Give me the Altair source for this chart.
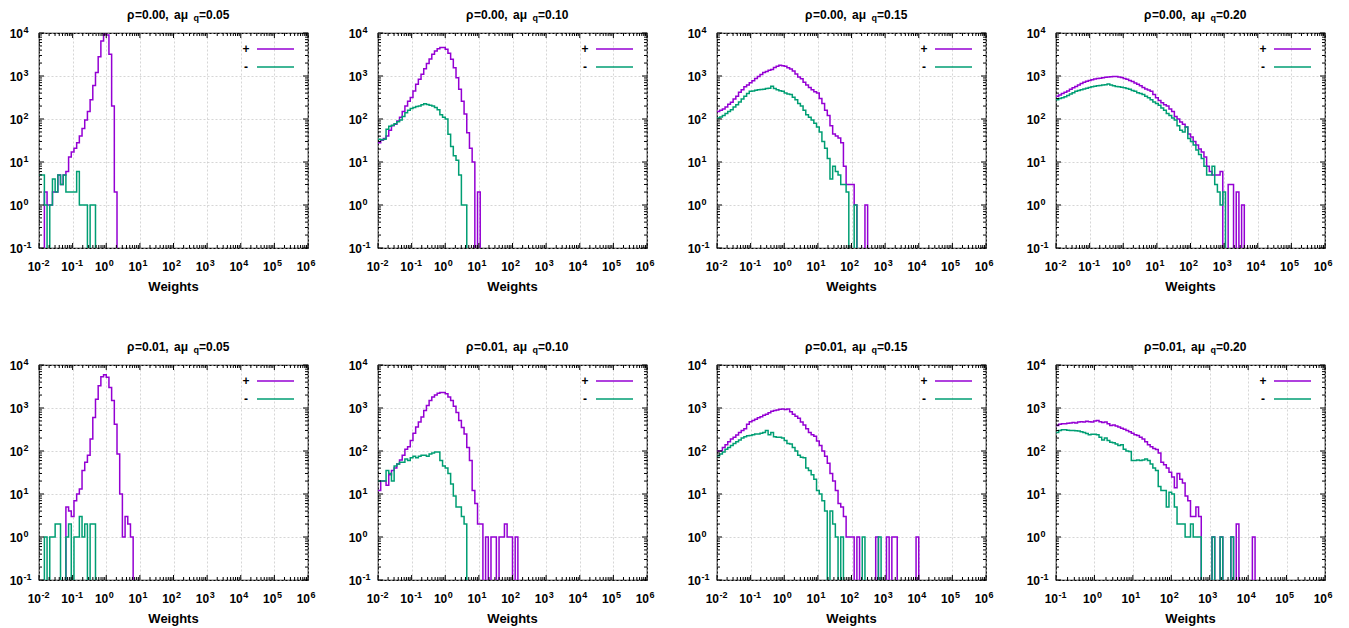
import altair as alt
import numpy as np
import pandas as pd

# ---------------- data ----------------
RHO = ["0.00", "0.01"]
AMQ = ["0.05", "0.10", "0.15", "0.20"]
SERIES = ["+", "-"]
COLORS = ["#9400D3", "#009E73"]
X_MIN_EXP = [-2, -2, -2, -2, -2, -2, -2, -1]
X_MAX_EXP = 6
Y_MIN_EXP = -1
Y_MAX_EXP = 4
N_BINS = 100
TICK_BASE = "10"
X_TITLE = "Weights"

# counts per logarithmic bin, starting at the left edge of the x range
PLUS_000_005 = [0, 0, 2, 1, 1, 2, 2, 5, 3, 5, 6, 13, 17, 21, 28, 40, 60, 95, 150, 280, 600, 1200, 2800,
                6500, 9500, 9000, 3200, 200, 2]
MINUS_000_005 = [5, 5, 1, 0, 1, 4, 2, 5, 3, 5, 2, 2, 2, 2, 6, 1, 1, 1, 0, 1, 1]

PLUS_000_010 = [28, 32, 35, 40, 55, 70, 75, 90, 110, 150, 200, 260, 315, 450, 640, 840, 1100, 1480, 1960,
                2500, 3200, 3800, 4300, 4600, 4600, 4200, 3370, 2440, 1550, 910, 490, 260, 130, 48, 21, 10,
                0, 2]
MINUS_000_010 = [34, 33, 34, 58, 68, 72, 78, 86, 95, 115, 140, 160, 175, 185, 195, 200, 215, 225, 218, 210,
                 200, 185, 165, 125, 110, 100, 44, 23, 14, 11, 5, 1, 1]

PLUS_000_015 = [150, 160, 170, 190, 220, 245, 290, 340, 420, 480, 560, 620, 700, 780, 880, 980, 1080, 1200,
                1280, 1360, 1420, 1580, 1680, 1770, 1720, 1680, 1560, 1450, 1300, 1120, 950, 860, 720, 620,
                540, 480, 430, 400, 300, 230, 160, 120, 70, 45, 40, 36, 28, 8, 3, 3, 3, 1, 0, 0, 0, 1]
MINUS_000_015 = [105, 112, 120, 135, 150, 165, 190, 215, 250, 290, 340, 390, 440, 450, 465, 480, 485, 495,
                 510, 520, 575, 510, 480, 455, 440, 400, 380, 370, 320, 280, 230, 200, 160, 125, 110, 95, 80,
                 65, 50, 30, 21, 12, 4, 8, 6, 5, 3, 3, 2, 0, 0, 1]

PLUS_000_020 = [340, 360, 390, 420, 450, 490, 530, 570, 620, 670, 720, 760, 790, 820, 850, 870, 890, 910,
                930, 950, 960, 975, 980, 950, 920, 880, 840, 790, 740, 690, 640, 590, 540, 500, 470, 440, 370,
                310, 270, 240, 215, 200, 170, 150, 115, 100, 85, 75, 65, 45, 38, 30, 25, 20, 17, 13, 8, 6, 5,
                5, 5, 6, 0, 0, 3, 3, 0, 2, 0, 1]
MINUS_000_020 = [280, 300, 310, 330, 350, 380, 410, 440, 460, 480, 500, 520, 540, 560, 575, 590, 600, 615,
                 630, 650, 620, 590, 570, 560, 550, 530, 515, 490, 460, 440, 410, 390, 370, 340, 310, 280, 250,
                 230, 210, 180, 160, 135, 120, 105, 95, 70, 55, 50, 65, 35, 30, 25, 19, 15, 12, 8, 5, 5, 8, 3,
                 2, 1, 2]

PLUS_001_005 = [0, 0, 0, 0, 0, 0, 0, 0, 0, 0, 5, 4, 3, 7, 10, 13, 35, 55, 80, 190, 600, 1600, 3300, 5300,
                5900, 5200, 3000, 1500, 420, 85, 10, 1, 3, 2, 1]
MINUS_001_005 = [0, 0, 1, 0, 1, 1, 2, 2, 0, 0, 1, 2, 0, 1, 1, 3, 1, 2, 0, 2, 2]

PLUS_001_010 = [12, 20, 20, 16, 28, 35, 40, 50, 62, 80, 110, 125, 175, 260, 360, 470, 620, 870, 1150, 1500,
                1800, 2000, 2200, 2300, 2300, 2150, 1800, 1500, 1100, 790, 510, 350, 250, 120, 60, 12, 6, 2,
                2, 0, 1, 0, 1, 1, 0, 1, 1, 2, 1, 1, 0, 1]
MINUS_001_010 = [20, 20, 20, 35, 30, 20, 45, 50, 55, 55, 65, 60, 70, 75, 70, 75, 80, 80, 75, 85, 90, 95, 95,
                 60, 45, 40, 30, 17, 9, 5, 5, 3, 2]

PLUS_001_015 = [100, 100, 120, 140, 165, 190, 210, 235, 270, 300, 330, 420, 480, 510, 550, 590, 630, 680,
                720, 780, 840, 880, 900, 930, 950, 920, 950, 820, 720, 640, 580, 470, 400, 330, 270, 240, 220,
                170, 135, 100, 75, 52, 30, 20, 12, 6, 5, 3, 1, 1, 1, 0, 1, 0, 0, 0, 0, 0, 0, 1, 0, 0, 0, 1, 0,
                1, 1, 0, 0, 0, 0, 0, 0, 0, 1]
MINUS_001_015 = [78, 85, 95, 110, 120, 135, 150, 165, 180, 200, 215, 225, 230, 240, 250, 250, 260, 270, 300,
                 240, 270, 215, 210, 210, 200, 175, 150, 145, 120, 100, 80, 72, 70, 40, 35, 28, 22, 12, 10, 7,
                 4, 0, 4, 2, 1, 0, 1, 0, 0, 0, 0, 0, 0, 0, 1, 0, 0, 0, 0, 0, 1]

PLUS_001_020 = [390, 420, 430, 430, 440, 450, 460, 450, 470, 480, 470, 490, 480, 470, 500, 510, 480, 460,
                470, 430, 390, 400, 380, 360, 340, 320, 300, 280, 260, 240, 230, 210, 190, 165, 140, 125, 115,
                108, 90, 55, 48, 40, 32, 25, 14, 30, 22, 18, 9, 7, 3, 3, 5, 3, 0, 0, 0, 0, 1, 0, 0, 1, 0, 0,
                0, 1, 0, 2, 0, 0, 0, 0, 0, 1]
MINUS_001_020 = [270, 300, 310, 310, 305, 300, 300, 295, 290, 280, 270, 255, 240, 245, 245, 240, 210, 180,
                 200, 175, 160, 155, 145, 135, 140, 110, 100, 98, 60, 60, 62, 60, 62, 65, 60, 50, 40, 35, 15,
                 12, 12, 5, 11, 10, 5, 2, 2, 2, 1, 1, 2, 1, 1, 1, 0, 0, 0, 0, 1, 0, 0, 1, 0, 0, 0, 1]

PANELS = [
    (PLUS_000_005, MINUS_000_005), (PLUS_000_010, MINUS_000_010),
    (PLUS_000_015, MINUS_000_015), (PLUS_000_020, MINUS_000_020),
    (PLUS_001_005, MINUS_001_005), (PLUS_001_010, MINUS_001_010),
    (PLUS_001_015, MINUS_001_015), (PLUS_001_020, MINUS_001_020),
]

# ---------------- styling ----------------
W, H = 269, 215
FONT = "Liberation Sans"
GRID = dict(grid=True, gridDash=[2, 2], gridColor="#c4c4c4", gridWidth=0.7,
            labels=False, ticks=False, domain=False, title=None)


def hist_df(counts, xmin):
    c = list(counts) + [0] * (N_BINS - len(counts))
    edges = np.logspace(xmin, X_MAX_EXP, N_BINS + 1)
    vals = c + [c[-1]]
    y = [v if v > 0 else 1e-3 for v in vals]
    return pd.DataFrame({"x": edges, "y": y})


def tick_vals(lo, hi):
    major = [10.0 ** e for e in range(lo, hi + 1)]
    minor = [m * 10.0 ** e for e in range(lo, hi) for m in range(2, 10)]
    return major, minor


def txt(df, field, x, y, size, align="left"):
    return (alt.Chart(df)
            .mark_text(align=align, baseline="middle", fontSize=size, fontWeight="bold",
                       font=FONT, color="black")
            .encode(x=alt.value(x), y=alt.value(y), text=f"{field}:N"))


def panel(i):
    r, c = divmod(i, 4)
    xlo = X_MIN_EXP[i]
    xs = alt.Scale(type="log", domain=[10.0 ** xlo, 10.0 ** X_MAX_EXP], nice=False)
    ys = alt.Scale(type="log", domain=[10.0 ** Y_MIN_EXP, 10.0 ** Y_MAX_EXP], nice=False)
    xmaj, xmin_t = tick_vals(xlo, X_MAX_EXP)
    ymaj, ymin_t = tick_vals(Y_MIN_EXP, Y_MAX_EXP)
    xaxis = alt.Axis(values=xmaj, **GRID)
    yaxis = alt.Axis(values=ymaj, **GRID)

    def X():
        return alt.X("x:Q", scale=xs, axis=xaxis)

    def Y():
        return alt.Y("y:Q", scale=ys, axis=yaxis)

    layers = []
    for j, counts in enumerate(PANELS[i]):
        layers.append(
            alt.Chart(hist_df(counts, xlo))
            .mark_line(interpolate="step-after", clip=True, color=COLORS[j], strokeWidth=1.5)
            .encode(x=X(), y=Y())
        )

    # inward ticks on all four sides
    for vals, L in [(xmaj, 5), (xmin_t, 3)]:
        df = pd.DataFrame({"x": vals})
        layers.append(alt.Chart(df).mark_rule(color="black", strokeWidth=1)
                      .encode(x=X(), y=alt.value(H), y2=alt.value(H - L)))
        layers.append(alt.Chart(df).mark_rule(color="black", strokeWidth=1)
                      .encode(x=X(), y=alt.value(0), y2=alt.value(L)))
    for vals, L in [(ymaj, 5), (ymin_t, 3)]:
        df = pd.DataFrame({"y": vals})
        layers.append(alt.Chart(df).mark_rule(color="black", strokeWidth=1)
                      .encode(y=Y(), x=alt.value(0), x2=alt.value(L)))
        layers.append(alt.Chart(df).mark_rule(color="black", strokeWidth=1)
                      .encode(y=Y(), x=alt.value(W), x2=alt.value(W - L)))

    # tick labels 10^e
    xl = pd.DataFrame({"x": xmaj, "e": [str(e) for e in range(xlo, X_MAX_EXP + 1)]})
    layers.append(alt.Chart(xl).mark_text(align="right", baseline="middle", dx=2, fontSize=12,
                                          fontWeight="bold", font=FONT, color="black")
                  .encode(x=X(), y=alt.value(H + 19), text=alt.value(TICK_BASE)))
    layers.append(alt.Chart(xl).mark_text(align="left", baseline="middle", dx=2.5, fontSize=9,
                                          fontWeight="bold", font=FONT, color="black")
                  .encode(x=X(), y=alt.value(H + 14.5), text="e:N"))
    yl = pd.DataFrame({"y": ymaj, "e": [str(e) for e in range(Y_MIN_EXP, Y_MAX_EXP + 1)]})
    layers.append(alt.Chart(yl).mark_text(align="right", baseline="middle", dy=1, fontSize=12,
                                          fontWeight="bold", font=FONT, color="black")
                  .encode(y=Y(), x=alt.value(-16), text=alt.value(TICK_BASE)))
    layers.append(alt.Chart(yl).mark_text(align="left", baseline="middle", dy=-3.5, fontSize=9,
                                          fontWeight="bold", font=FONT, color="black")
                  .encode(y=Y(), x=alt.value(-15.5), text="e:N"))

    # title  "ρ=0.00, aμ_q=0.05"
    tdf = pd.DataFrame({"rho": ["ρ"], "rv": [f"={RHO[r]},"], "amu": ["aμ"],
                        "q": ["q"], "b": [f"={AMQ[c]}"]})
    layers.append(txt(tdf, "rho", 88, -18, 12))
    layers.append(txt(tdf, "rv", 96, -18, 12))
    layers.append(txt(tdf, "amu", 149, -18, 12, align="right"))
    layers.append(txt(tdf, "q", 154.5, -15, 9))
    layers.append(txt(tdf, "b", 160, -18, 12))

    # x-axis title
    layers.append(txt(pd.DataFrame({"t": [X_TITLE]}), "t", W / 2, H + 39, 13, align="center"))

    # key (label left of line sample)
    for j, name in enumerate(SERIES):
        kdf = pd.DataFrame({"s": [name]})
        ky = 16 + 18 * j
        layers.append(txt(kdf, "s", 207, ky, 12, align="center"))
        layers.append(alt.Chart(kdf).mark_rule(color=COLORS[j], strokeWidth=1.5)
                      .encode(x=alt.value(218), x2=alt.value(255), y=alt.value(ky)))

    return alt.layer(*layers).properties(width=W, height=H)


chart = (
    alt.concat(*[panel(i) for i in range(8)], columns=4,
               spacing={"row": 117, "column": 70}, bounds="flush")
    .properties(padding={"left": 1, "top": 0, "right": 5, "bottom": 0})
    .configure(font=FONT)
    .configure_view(stroke="black", strokeWidth=1.2)
)

chart.save("out.html", embed_options={"renderer": "svg", "actions": False})
